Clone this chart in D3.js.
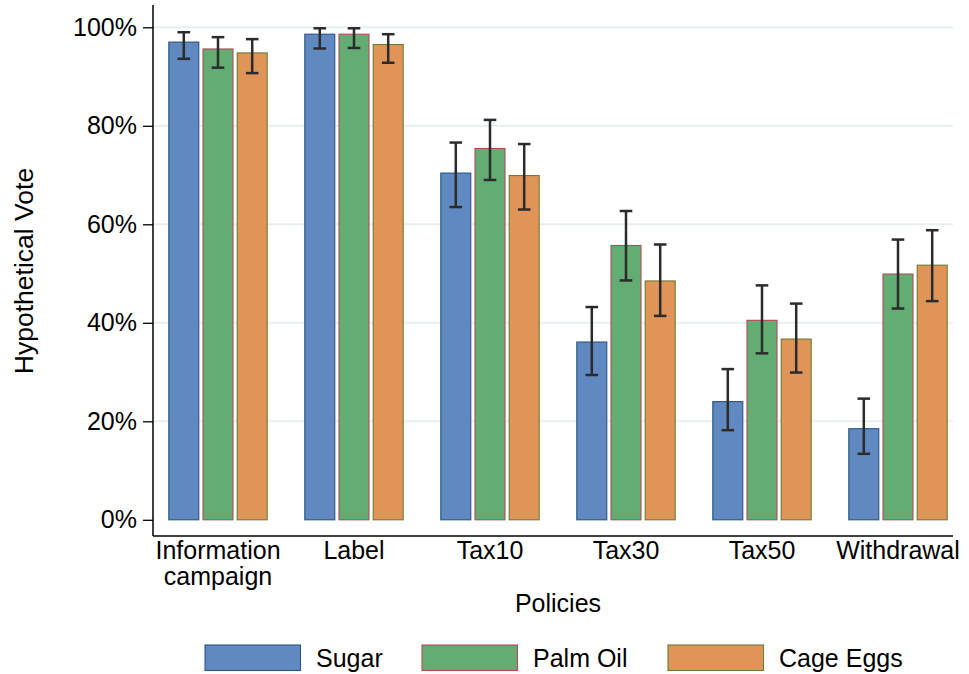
<!DOCTYPE html>
<html>
<head>
<meta charset="utf-8">
<script src="https://cdn.jsdelivr.net/npm/d3@7"></script>
<style>
  html, body { margin: 0; padding: 0; background: #fff; }
  svg { display: block; font-family: "Liberation Sans", Arial, Helvetica, sans-serif; }
</style>
</head>
<body>
<svg id="chart" width="969" height="674"></svg>
<script>
// ---- data ----
const categories = ["Information campaign", "Label", "Tax10", "Tax30", "Tax50", "Withdrawal"];
const seriesNames = ["Sugar", "Palm Oil", "Cage Eggs"];
const sugar   = [97.0, 98.6, 70.4, 36.1, 24.0, 18.5];
const sugarLo = [93.6, 95.7, 63.5, 29.4, 18.2, 13.4];
const sugarHi = [99.0, 99.8, 76.6, 43.2, 30.6, 24.6];
const palm    = [95.6, 98.6, 75.4, 55.7, 40.5, 49.9];
const palmLo  = [91.8, 95.8, 69.0, 48.6, 33.8, 42.9];
const palmHi  = [98.0, 99.8, 81.2, 62.7, 47.6, 56.9];
const cage    = [94.8, 96.5, 69.9, 48.5, 36.7, 51.7];
const cageLo  = [90.7, 92.8, 63.0, 41.4, 29.9, 44.4];
const cageHi  = [97.6, 98.6, 76.3, 55.9, 43.9, 58.8];
const yTicks = [0, 20, 40, 60, 80, 100];

const fills   = ["#6088c1", "#64ad72", "#e09558"];
const strokes = ["#2a5584", "#b04a58", "#6b7d32"];

const seriesVals = [sugar, palm, cage];
const seriesLo = [sugarLo, palmLo, cageLo];
const seriesHi = [sugarHi, palmHi, cageHi];

const svg = d3.select("#chart");
const FS = 25;

const x = d3.scaleBand().domain(categories).range([150, 966]).padding(0);
const xs = d3.scaleBand().domain(seriesNames).range([-49.7, 49.7]).paddingInner(0.094).paddingOuter(0);
const y = d3.scaleLinear().domain([0, 100]).range([519.8, 27.3]);

const plotL = 153, plotR = 953, axisY = 536;

// gridlines
svg.append("g").selectAll("line").data(yTicks.filter(d => d > 0)).join("line")
  .attr("x1", plotL).attr("x2", plotR)
  .attr("y1", d => y(d)).attr("y2", d => y(d))
  .attr("stroke", "#e8eff2").attr("stroke-width", 2);

// bars
const data = [];
categories.forEach((c, i) => seriesNames.forEach((s, j) => {
  data.push({ c, s, j, v: seriesVals[j][i], lo: seriesLo[j][i], hi: seriesHi[j][i] });
}));

svg.append("g").selectAll("rect").data(data).join("rect")
  .attr("x", d => x(d.c) + x.bandwidth() / 2 + xs(d.s) + 0.5)
  .attr("width", xs.bandwidth() - 1)
  .attr("y", d => y(d.v))
  .attr("height", d => y(0) - y(d.v))
  .attr("fill", d => fills[d.j])
  .attr("stroke", d => strokes[d.j])
  .attr("stroke-width", 1.1);

// error bars
const eb = svg.append("g").attr("stroke", "#2b2b2b").attr("stroke-width", 2.5).attr("fill", "none");
data.forEach(d => {
  const cx = x(d.c) + x.bandwidth() / 2 + xs(d.s) + xs.bandwidth() / 2;
  eb.append("line").attr("x1", cx).attr("x2", cx).attr("y1", y(d.lo)).attr("y2", y(d.hi));
  eb.append("line").attr("x1", cx - 6.3).attr("x2", cx + 6.3).attr("y1", y(d.lo)).attr("y2", y(d.lo));
  eb.append("line").attr("x1", cx - 6.3).attr("x2", cx + 6.3).attr("y1", y(d.hi)).attr("y2", y(d.hi));
});

// y axis
const yAxis = d3.axisLeft(y).tickValues(yTicks).tickFormat(d => d + "%").tickSize(10).tickPadding(6);
const gy = svg.append("g").attr("transform", `translate(${plotL},0)`).call(yAxis);
gy.select(".domain").remove();
gy.selectAll(".tick line").attr("stroke", "#000").attr("stroke-width", 1.3);
gy.selectAll(".tick text").attr("font-size", FS).attr("fill", "#000")
  .attr("font-family", "Liberation Sans, Arial, sans-serif");
svg.append("line").attr("x1", plotL).attr("x2", plotL).attr("y1", 5).attr("y2", axisY)
  .attr("stroke", "#000").attr("stroke-width", 1.5);

// x axis
svg.append("line").attr("x1", plotL).attr("x2", plotR).attr("y1", axisY).attr("y2", axisY)
  .attr("stroke", "#000").attr("stroke-width", 1.5);
const xl = svg.append("g");
categories.forEach(c => {
  const words = c === "Information campaign" ? ["Information", "campaign"] : [c];
  words.forEach((w, k) => {
    xl.append("text").attr("text-anchor", "middle").attr("font-size", FS).attr("fill", "#000")
      .attr("x", x(c) + x.bandwidth() / 2).attr("y", 559 + k * 26).text(w);
  });
});

// axis titles
svg.append("text").attr("x", 558).attr("y", 612).attr("text-anchor", "middle")
  .attr("font-size", FS).attr("fill", "#000").text("Policies");
svg.append("text").attr("transform", "translate(33,271) rotate(-90)").attr("text-anchor", "middle")
  .attr("font-size", 26.5).attr("fill", "#000").text("Hypothetical Vote");

// legend
const legX = [205, 422, 668];
const leg = svg.append("g");
seriesNames.forEach((s, j) => {
  leg.append("rect").attr("x", legX[j]).attr("y", 645).attr("width", 95.5).attr("height", 25.5)
    .attr("fill", fills[j]).attr("stroke", strokes[j]).attr("stroke-width", 1.1);
  leg.append("text").attr("x", legX[j] + 111).attr("y", 667).attr("font-size", FS)
    .attr("fill", "#000").text(s);
});
</script>
</body>
</html>
